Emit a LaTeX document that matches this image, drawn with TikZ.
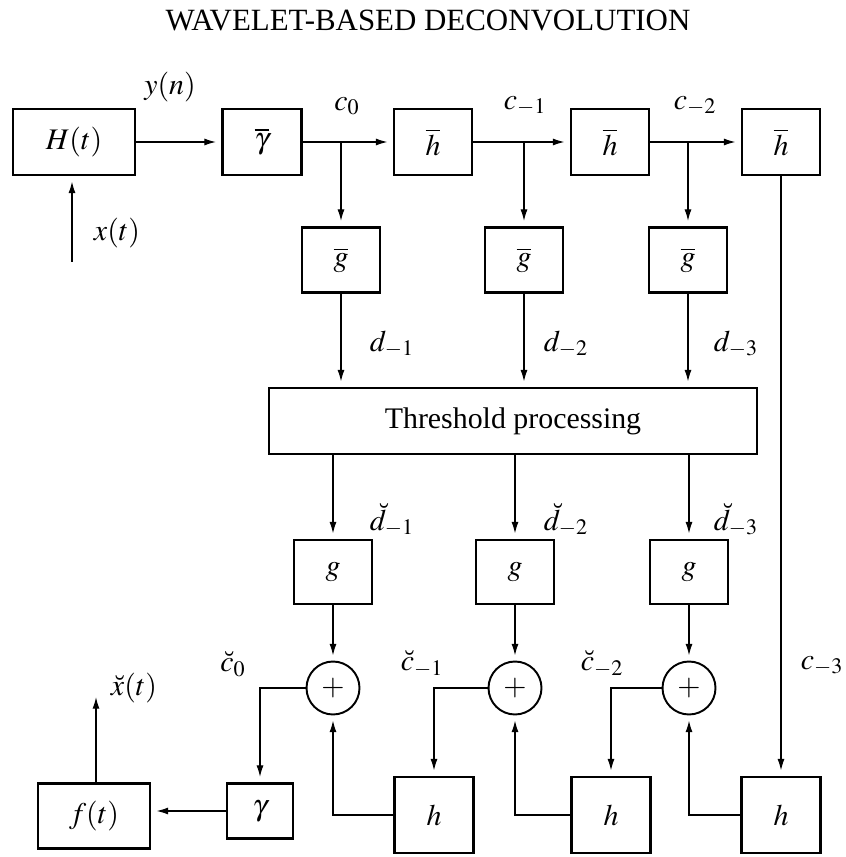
\documentclass[tikz,border=0pt]{standalone}
\usepackage{mathptmx}
\usepackage{fontspec}
\setmainfont{Liberation Serif}
\usetikzlibrary{arrows.meta}

\begin{document}
\begin{tikzpicture}[x=0.02cm,y=-0.02cm,
  font=\fontsize{17}{20}\selectfont,
  bloco/.style={draw,line width=1.6pt,inner sep=0pt},
  soma/.style={draw,circle,line width=1.1pt,minimum size=1.06cm,inner sep=0pt},
  seta/.style={-{Latex[length=6.5pt,width=4pt]},line width=0.6pt,shorten >=3pt},
  rotulo/.style={inner sep=1pt}]

\useasboundingbox (0,0) rectangle (845,857);

% Titulo
\node (titulo) at (428,21) {\fontsize{17.6}{20}\selectfont WAVELET-BASED DECONVOLUTION};

% Blocos da analise
\node[bloco,minimum width=2.44cm,minimum height=1.32cm] (H) at (74,142) {$H(t)$};
\node[bloco,minimum width=1.58cm,minimum height=1.32cm] (gamabar) at (262,142) {$\overline{\gamma}$};
\foreach \i/\x in {1/433,2/610,3/781} {
  \node[bloco,minimum width=1.56cm,minimum height=1.32cm] (hbar\i) at (\x,142) {$\overline{h}$};
}
\foreach \i/\x in {1/341,2/524,3/688} {
  \node[bloco,minimum width=1.56cm,minimum height=1.3cm] (gbar\i) at (\x,260) {$\overline{g}$};
}

% Limiar
\node[bloco,minimum width=9.76cm,minimum height=1.32cm] (limiar) at (513,421) {Threshold processing};

% Blocos da sintese
\foreach \i/\x in {1/333,2/515,3/689} {
  \node[bloco,minimum width=1.56cm,minimum height=1.28cm] (g\i) at (\x,572) {$g$};
  \node[soma] (soma\i) at (\x,688) {$+$};
}
\foreach \i/\x in {1/434,2/611,3/781} {
  \node[bloco,minimum width=1.58cm,minimum height=1.52cm] (h\i) at (\x,815) {$h$};
}
\node[bloco,minimum width=1.32cm,minimum height=1.1cm] (gama) at (260,811) {$\gamma$};
\node[bloco,minimum width=2.24cm,minimum height=1.3cm] (f) at (94,816) {$f(t)$};

% Entrada e saida
\coordinate (xin) at (72,262);
\coordinate (xout) at (96,692);
\draw[seta] (xin) -- (xin |- H.south);
\draw[seta] (f.north -| xout) -- (xout);

% Ligacoes da analise
\draw[seta] (H) -- (gamabar);
\draw[seta] (gamabar) -- (hbar1);
\draw[seta] (hbar1) -- (hbar2);
\draw[seta] (hbar2) -- (hbar3);
\foreach \i/\a in {1/gamabar,2/hbar1,3/hbar2} {
  \draw[seta] (gbar\i.north |- \a.east) -- (gbar\i.north);
  \draw[seta] (gbar\i.south) -- (gbar\i.south |- limiar.north);
  \draw[seta] (limiar.south -| g\i.north) -- (g\i.north);
  \draw[seta] (g\i) -- (soma\i);
  \draw[seta] (h\i.west) -| (soma\i.south);
}

% Ligacoes da sintese
\draw[seta] (soma1.west) -| (gama.north);
\draw[seta] (soma2.west) -| (h1.north);
\draw[seta] (soma3.west) -| (h2.north);
\draw[seta] (hbar3.south) -- (hbar3.south |- h3.north);
\draw[seta] (gama.west) -- (gama.west -| f.east);

% Rotulos
\node[rotulo] (yn) at (170,87) {$y(n)$};
\node[rotulo] (xt) at (117,233) {$x(t)$};
\node[rotulo] (c0) at (347,106) {$c_0$};
\node[rotulo] (cm1) at (525,106) {$c_{-1}$};
\node[rotulo] (cm2) at (695,106) {$c_{-2}$};
\node[rotulo] (cm3) at (822,666) {$c_{-3}$};
\foreach \i/\x in {1/392,2/566,3/736} {
  \node[rotulo] (d\i) at (\x,344) {$d_{-\i}$};
  \node[rotulo] (dr\i) at (\x,520) {$\breve{d}_{-\i}$};
}
\node[rotulo] (cr0) at (233,664) {$\breve{c}_0$};
\node[rotulo] (cr1) at (422,664) {$\breve{c}_{-1}$};
\node[rotulo] (cr2) at (602,664) {$\breve{c}_{-2}$};
\node[rotulo] (xr) at (134,688) {$\breve{x}(t)$};

\end{tikzpicture}
\end{document}
